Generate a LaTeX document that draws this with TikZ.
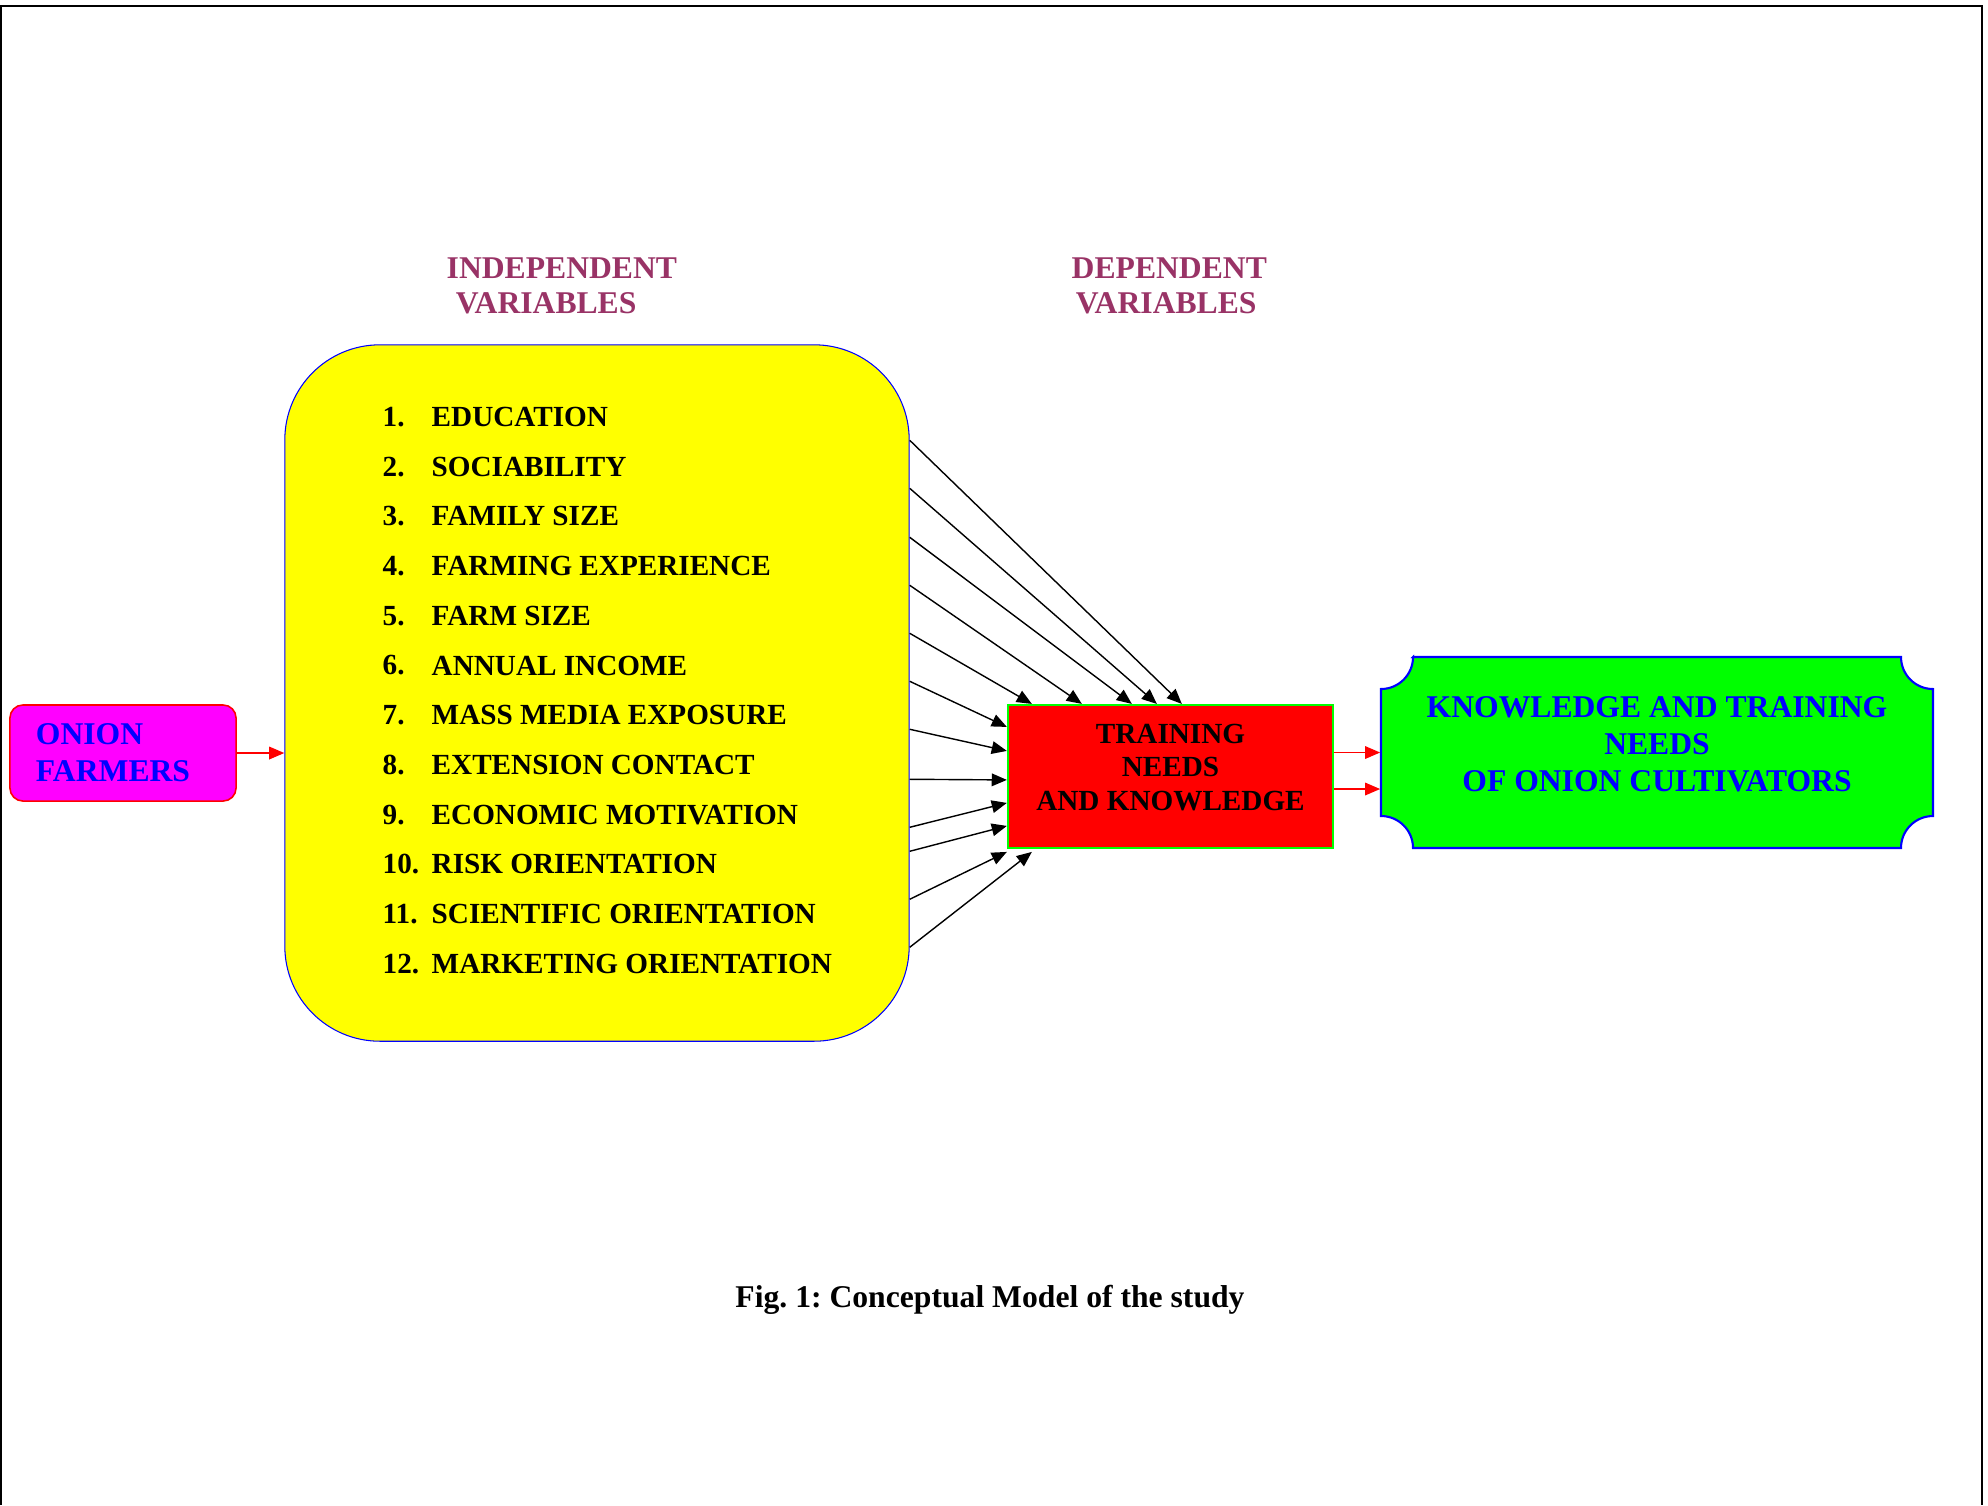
\documentclass[tikz,border=0pt]{standalone}
\usepackage{fontspec}
\setmainfont{Liberation Serif}
\usetikzlibrary{arrows.meta,calc}
\definecolor{headcol}{RGB}{153,51,102}
\definecolor{indepfill}{RGB}{255,255,0}
\definecolor{farmfill}{RGB}{255,0,255}
\definecolor{knowfill}{RGB}{0,255,0}
\definecolor{textblue}{RGB}{0,0,255}
\definecolor{boxred}{RGB}{255,0,0}
\tikzset{
  frame/.style={line width=0.6pt},
  varhead/.style={font=\fontsize{9}{10}\selectfont\bfseries, text=headcol, align=left, anchor=west, inner sep=0pt},
  indepbox/.style={draw=textblue, line width=0.3pt, fill=indepfill, rounded corners=0.95cm, minimum width=6.24cm, minimum height=6.96cm},
  item/.style={font=\fontsize{8.3}{9.5}\selectfont\bfseries, anchor=west, inner sep=0pt},
  farmbox/.style={draw=boxred, line width=0.45pt, fill=farmfill, rounded corners=0.13cm, minimum width=2.26cm, minimum height=0.96cm,
    text width=1.74cm, inner xsep=0.26cm, align=left, text=textblue, font=\fontsize{9}{10.5}\selectfont\bfseries},
  trainbox/.style={draw=knowfill, line width=0.6pt, fill=boxred, minimum width=3.25cm, minimum height=1.43cm, inner sep=0pt,
    text depth=5.4pt, align=center, font=\fontsize{8.3}{9.5}\selectfont\bfseries},
  knowbox/.style={minimum width=5.52cm, minimum height=1.91cm, inner sep=0pt, text depth=5pt, align=center, text=textblue,
    font=\fontsize{9}{10.5}\selectfont\bfseries},
  plaque/.style={draw=textblue, line width=0.6pt, fill=knowfill},
  dep/.style={line width=0.4pt, -{Triangle[length=4.3pt,width=3.6pt]}},
  redarr/.style={draw=boxred, line width=0.4pt, -{Triangle[length=4.3pt,width=3.6pt]}, boxred},
  caption/.style={font=\fontsize{9}{10.5}\selectfont\bfseries}
}
\frenchspacing
\begin{document}
\begin{tikzpicture}[x=0.01cm, y=0.01cm]
\useasboundingbox (0,0) rectangle (1988,-1505);
\draw[frame] (1,-1505) -- (1,-6) -- (1982,-6) -- (1982,-1505);

\node[varhead] (indephead) at (446,-286) {INDEPENDENT\\\hspace*{2.6pt}VARIABLES};
\node[varhead] (dephead) at (1071,-286) {DEPENDENT\\\hspace*{1.2pt}VARIABLES};

\node[farmbox] (onion) at (123,-753) {ONION\\FARMERS};
\node[indepbox] (indep) at (597,-693) {};

\foreach \n/\txt [count=\i from 0] in {1./EDUCATION, 2./SOCIABILITY, 3./FAMILY SIZE, 4./FARMING EXPERIENCE,
    5./FARM SIZE, 6./ANNUAL INCOME, 7./MASS MEDIA EXPOSURE, 8./EXTENSION CONTACT,
    9./ECONOMIC MOTIVATION, 10./RISK ORIENTATION, 11./SCIENTIFIC ORIENTATION, 12./MARKETING ORIENTATION}{
  \node[item] (num\i) at (382,-417-49.7*\i) {\n};
  \node[item] (var\i) at (431,-417-49.7*\i) {\txt};
}

\node[trainbox] (train) at (1170.5,-776.5) {TRAINING\\NEEDS\\AND KNOWLEDGE};

\draw[plaque] (1413,-657) -- (1901,-657) arc[start angle=180, end angle=270, radius=0.32cm]
  -- (1933,-816) arc[start angle=90, end angle=180, radius=0.32cm]
  -- (1413,-848) arc[start angle=0, end angle=90, radius=0.32cm]
  -- (1381,-689) arc[start angle=270, end angle=360, radius=0.32cm] -- cycle;
\node[knowbox] (know) at (1657,-752.5) {KNOWLEDGE AND TRAINING\\NEEDS\\OF ONION CULTIVATORS};

\draw[redarr] (onion.east) -- (onion.east -| indep.west);

\foreach \a/\bx/\by in {96/175/0, 144/150/0, 193/125/0, 241/75/0, 289/25/0, 337/0/-23,
    385/0/-47, 435/0/-76, 483/0/-99, 507/0/-122, 555/0/-148, 603/25/-148}
  \draw[dep] ($(indep.north east)+(0,-\a)$) -- ($(train.north west)+(\bx,\by)$);

\draw[redarr] (train.east |- know.west) -- (know.west);
\draw[redarr] ($(train.east)+(0,-12.5)$) -- ($(know.west)+(0,-36.5)$);

\node[caption] (cap) at (990,-1300) {Fig. 1: Conceptual Model of the study};
\end{tikzpicture}
\end{document}
